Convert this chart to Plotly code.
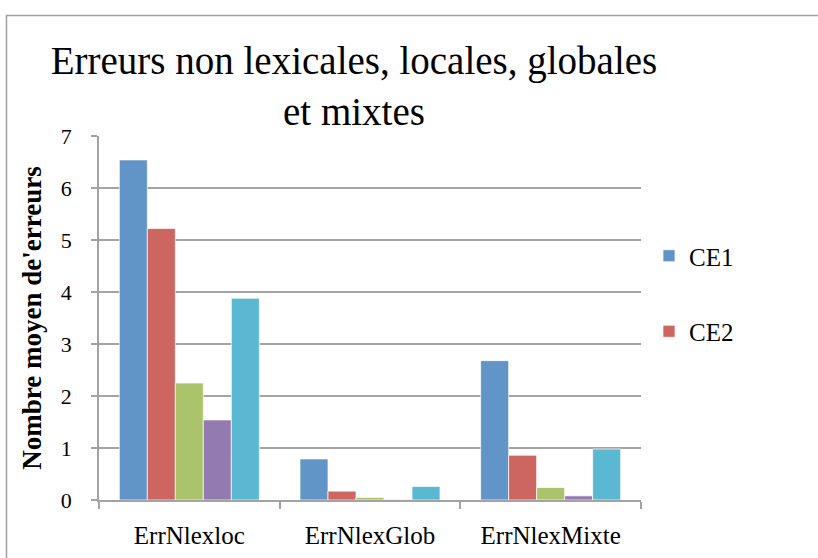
import plotly.graph_objects as go

categories = ["ErrNlexloc", "ErrNlexGlob", "ErrNlexMixte"]
series_names = ["CE1", "CE2", "Série 3", "Série 4", "Série 5"]
ce1 = [6.54, 0.79, 2.68]
ce2 = [5.22, 0.17, 0.86]
s3 = [2.25, 0.05, 0.24]
s4 = [1.54, 0.01, 0.08]
s5 = [3.88, 0.26, 0.98]
y_ticks = [0, 1, 2, 3, 4, 5, 6, 7]

values = [ce1, ce2, s3, s4, s5]
colors = ["#6195C8", "#CD6660", "#ABC36B", "#937BB0", "#5BB8D2"]
show = [True, True, False, False, False]

FONT = "Liberation Serif"
GRID = "#A3A3A3"

fig = go.Figure()
for i, (name, vals) in enumerate(zip(series_names, values)):
    fig.add_trace(go.Bar(
        x=categories, y=vals, name=name,
        marker=dict(color=colors[i], line=dict(color="rgba(255,255,255,0.7)", width=1)),
        showlegend=show[i], legendgroup=name,
    ))

W, H = 818, 558
L, R, T, B = 99, 177, 136, 58
pw, ph = W - L - R, H - T - B

def px(x):
    return (x - L) / pw

def py(y):
    return (H - B - y) / ph

fig.update_layout(
    width=W, height=H,
    margin=dict(l=L, r=R, t=T, b=B, autoexpand=False),
    paper_bgcolor="white", plot_bgcolor="white",
    barmode="group", bargap=0.225, bargroupgap=0,
    font=dict(family=FONT, color="black"),
    title=dict(
        text="Erreurs non lexicales, locales, globales<br>et mixtes",
        x=354 / W, xanchor="center", y=1 - 74 / H, yanchor="top",
        font=dict(size=39, family=FONT, color="black"),
    ),
    legend=dict(
        x=px(649), xanchor="left", y=py(233), yanchor="top",
        font=dict(size=25, family=FONT), tracegroupgap=40,
        traceorder="grouped", bgcolor="rgba(0,0,0,0)",
    ),
    showlegend=True,
    shapes=[dict(
        type="rect", xref="paper", yref="paper",
        x0=px(6.5), x1=px(840), y0=py(580), y1=py(15.5),
        line=dict(color="#A0A0A0", width=1.5), fillcolor="rgba(0,0,0,0)", layer="below",
    )],
)

fig.update_yaxes(
    range=[0, 7], tickvals=y_ticks, ticktext=[str(v) for v in y_ticks],
    showgrid=True, gridcolor=GRID, gridwidth=1.5,
    showline=True, linecolor=GRID, linewidth=1.5,
    ticks="outside", ticklen=6, tickcolor=GRID, tickwidth=1.5,
    tickfont=dict(size=22, family=FONT), ticklabelstandoff=15,
    title=dict(text="<b>Nombre moyen de'erreurs</b>", font=dict(size=27, family=FONT), standoff=11),
    zeroline=False,
)
fig.update_xaxes(
    showline=True, linecolor=GRID, linewidth=1.5,
    ticks="outside", ticklen=7, tickcolor=GRID, tickwidth=1.5, tickson="boundaries",
    tickfont=dict(size=25, family=FONT), ticklabelstandoff=12,
)

fig.write_html("out.html", config={"displayModeBar": False},
               post_script="document.body.style.margin='0';")
